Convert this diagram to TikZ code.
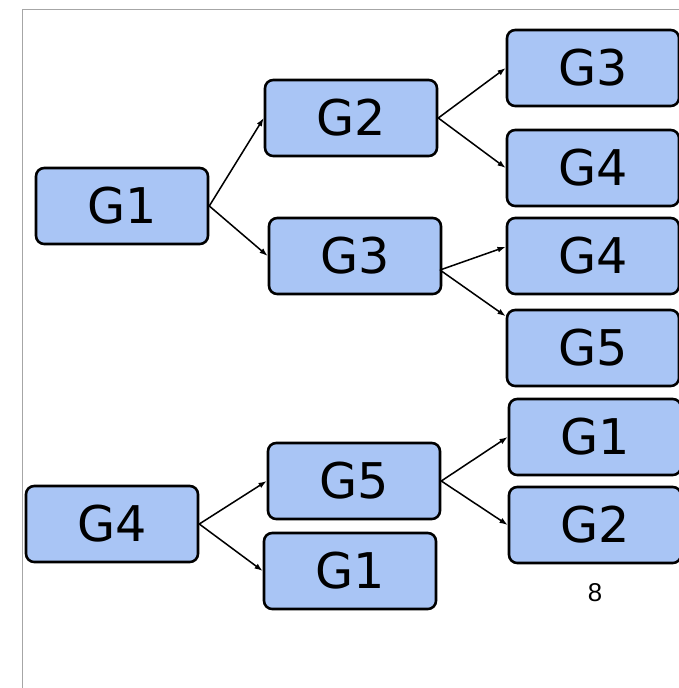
\documentclass[tikz,border=0pt]{standalone}
\usepackage{fontspec}
\setmainfont{DejaVu Sans}
\newfontfamily\pagefont{Liberation Sans}
\usepackage{xcolor}
\usetikzlibrary{arrows.meta}
\definecolor{boxblue}{HTML}{A9C5F5}

\begin{document}
\begin{tikzpicture}[x=0.03cm, y=-0.03cm,
    gbox/.style={rectangle, draw, line width=2.2pt, rounded corners=7pt, fill=boxblue,
        minimum width=5.16cm, minimum height=2.28cm, inner sep=0pt,
        font=\fontsize{42}{42}\selectfont},
    link/.style={-{Latex[length=7pt, width=5pt]}, line width=1.3pt}]
    % Parameters
    \def\xRoot{122}
    \def\xMid{352}
    \def\xLeaf{593}

    \useasboundingbox (0,0) rectangle (679,688);
    % slide frame
    \draw[gray!70, line width=0.8pt] (22,688) -- (22,9) -- (679,9);

    % Upper tree
    \node[gbox] (L1) at (\xRoot, 206) {G1};
    \node[gbox] (M2) at (351, 118) {G2};
    \node[gbox] (M3) at (355, 256) {G3};
    \node[gbox] (R3) at (\xLeaf, 68) {G3};
    \node[gbox] (R4a) at (\xLeaf, 168) {G4};
    \node[gbox] (R4b) at (\xLeaf, 256) {G4};
    \node[gbox] (R5) at (\xLeaf, 348) {G5};
    \coordinate (M3out) at (440, 270);

    % Lower tree
    \node[gbox] (L4) at (112, 524) {G4};
    \node[gbox] (M5) at (354, 481) {G5};
    \node[gbox] (M1) at (350, 571) {G1};
    \node[gbox] (R1) at (595, 437) {G1};
    \node[gbox] (R2) at (595, 525) {G2};

    \node[font=\pagefont\fontsize{22}{22}\selectfont] (pnum) at (595, 593) {8};

    % Connections
    \draw[link] (L1.east) -- (M2.west);
    \draw[link] (L1.east) -- (M3.west);
    \draw[link] (M2.east) -- (R3.west);
    \draw[link] (M2.east) -- (R4a.west);
    \draw[link] (M3out) -- (R4b.174);
    \draw[link] (M3out) -- (R5.160);

    \draw[link] (L4.east) -- (M5.west);
    \draw[link] (L4.east) -- (M1.west);
    \draw[link] (M5.east) -- (R1.west);
    \draw[link] (M5.east) -- (R2.west);
\end{tikzpicture}
\end{document}
